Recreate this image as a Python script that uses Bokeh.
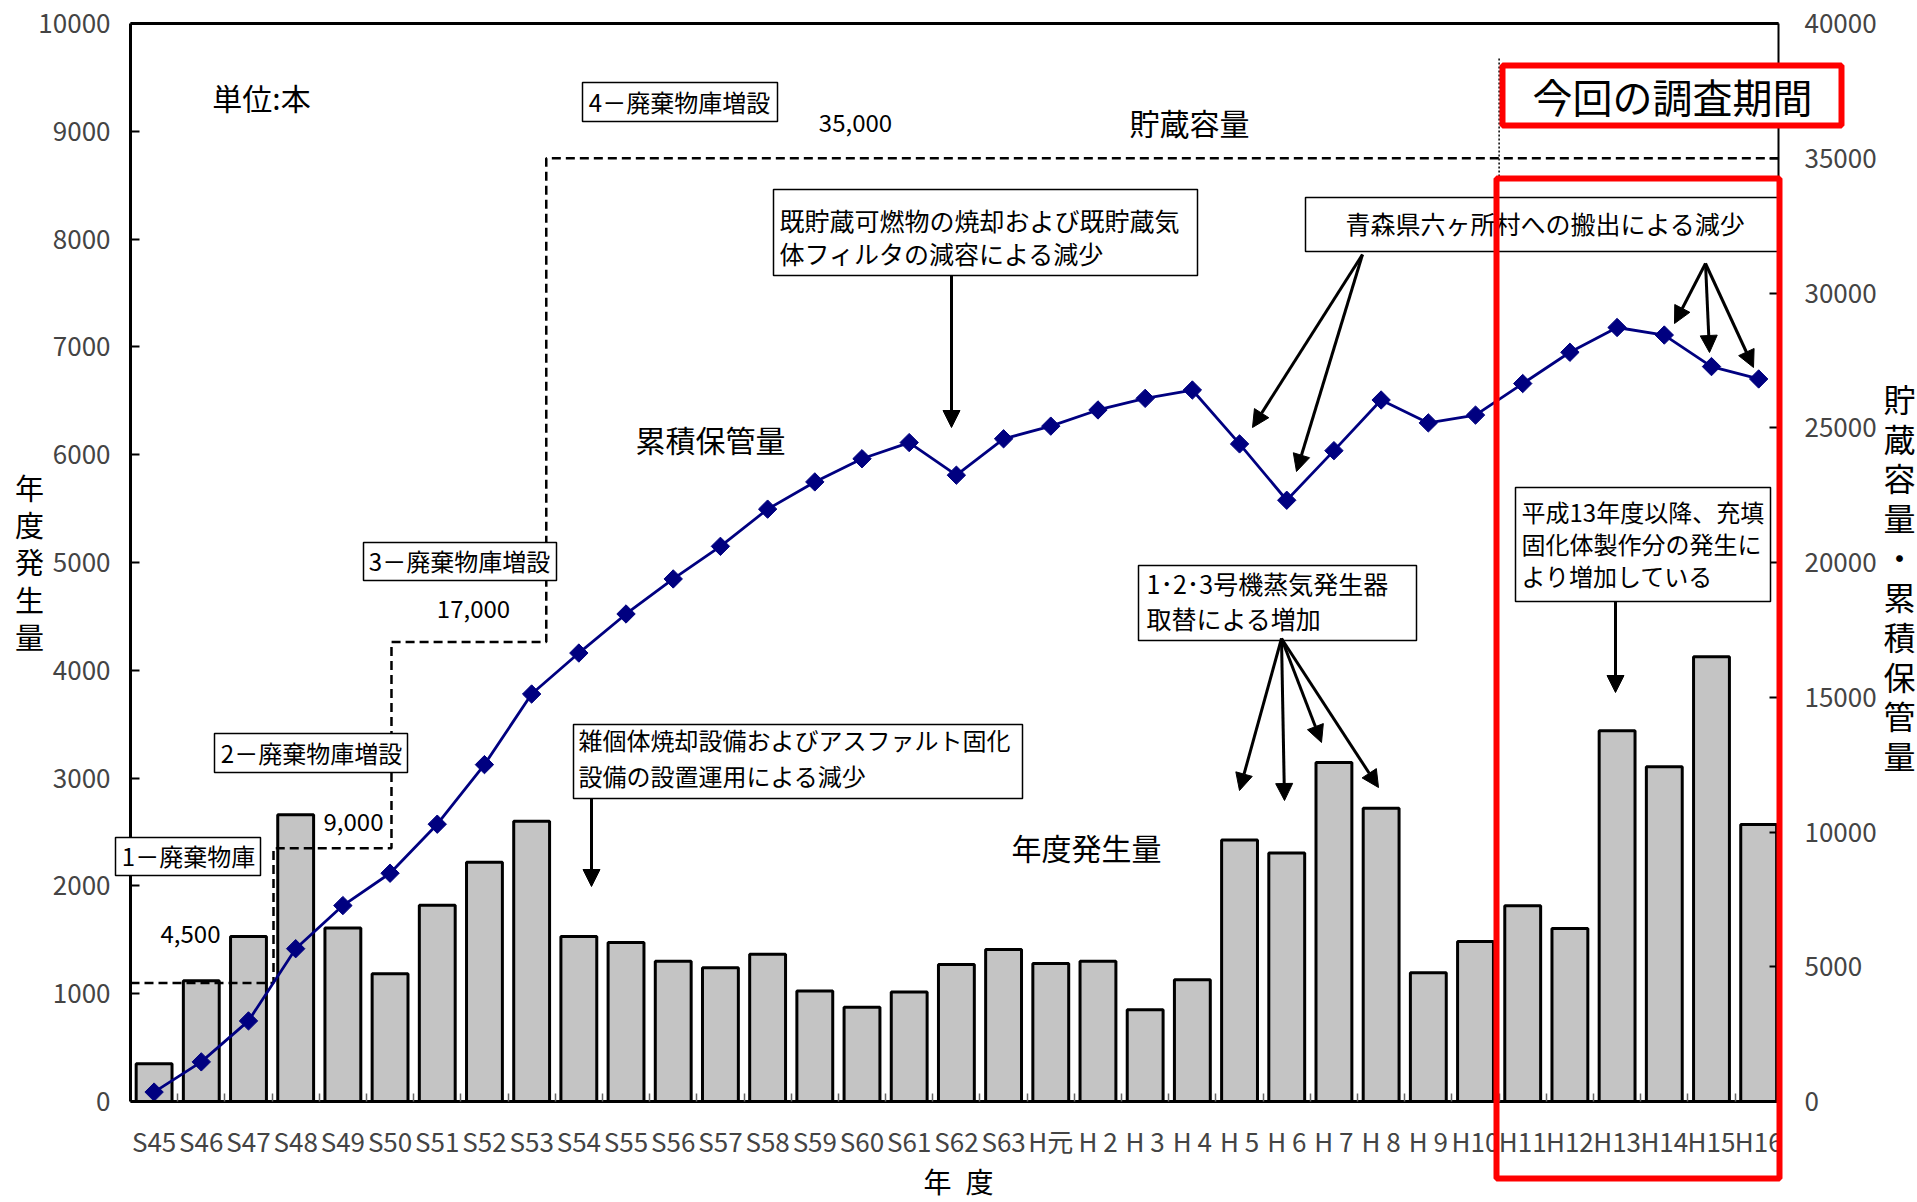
from bokeh.plotting import figure
from bokeh.models import Range1d, LinearAxis, FixedTicker, Label, BoxAnnotation, Arrow, NormalHead
from bokeh.embed import file_html
from bokeh.resources import INLINE

# ---------------- data ----------------
categories = ["S45", "S46", "S47", "S48", "S49", "S50", "S51", "S52", "S53", "S54",
              "S55", "S56", "S57", "S58", "S59", "S60", "S61", "S62", "S63", "H元",
              "H 2", "H 3", "H 4", "H 5", "H 6", "H 7", "H 8", "H 9", "H10", "H11",
              "H12", "H13", "H14", "H15", "H16"]
annual = [350, 1120, 1530, 2660, 1610, 1185, 1820, 2220, 2600, 1530,
          1475, 1300, 1240, 1365, 1025, 875, 1015, 1270, 1410, 1280,
          1300, 850, 1130, 2425, 2305, 3145, 2720, 1195, 1485, 1815,
          1605, 3440, 3105, 4125, 2570]
cumulative = [350, 1470, 2990, 5670, 7270, 8470, 10290, 12500, 15120, 16640,
              18090, 19390, 20600, 21980, 22990, 23850, 24450, 23240, 24590, 25060,
              25660, 26090, 26400, 24400, 22310, 24150, 26030, 25180, 25470, 26640,
              27800, 28720, 28440, 27270, 26810]
capacity_drawn = [4400, 9400, 17050, 35000]
capacity_text = ["4,500", "9,000", "17,000", "35,000"]
capacity_from = [-0.5, 2.53, 5.03, 8.31]
left_ticks = [0, 1000, 2000, 3000, 4000, 5000, 6000, 7000, 8000, 9000, 10000]
right_ticks = [0, 5000, 10000, 15000, 20000, 25000, 30000, 35000, 40000]
survey_start = 28.5

# ---------------- layout ----------------
W, H = 1917, 1202
PL, PR, PT, PB = 130, 1778, 23, 1101      # pixel box of the chart's axes
XMIN, XMAX = -0.5, 34.42
YMAX, RMAX = 10000, 40000
FONT = "Noto Sans CJK JP"
EM = 1.448  # Noto Sans CJK line box in em

ux = (XMAX - XMIN) / (PR - PL)
uy = YMAX / (PB - PT)
XLO, XHI = XMIN - PL * ux, XMAX + (W - PR) * ux
YLO, YHI = -(H - PB) * uy, YMAX + PT * uy


def X(px):
    return XLO + px * ux


def Y(py):
    return YHI - py * uy


p = figure(width=W, height=H, x_range=Range1d(XLO, XHI), y_range=Range1d(YLO, YHI),
           output_backend="svg", toolbar_location=None, x_axis_location=None,
           y_axis_location=None, min_border=0)
p.extra_y_ranges = {"right": Range1d(YLO * RMAX / YMAX, YHI * RMAX / YMAX)}
p.xgrid.visible = False
p.ygrid.visible = False
p.background_fill_color = "white"
p.border_fill_color = "white"
p.outline_line_color = None

# axes (drawn at fixed positions inside the canvas)
xa = LinearAxis(fixed_location=0, bounds=(XMIN, XMAX),
                ticker=FixedTicker(ticks=list(range(len(categories))),
                                   minor_ticks=[i + 0.5 for i in range(len(categories) - 1)]))
xa.major_label_overrides = {i: c for i, c in enumerate(categories)}
xa.major_tick_in = 0
xa.major_tick_out = 0
xa.minor_tick_in = 8
xa.minor_tick_out = 0
xa.minor_tick_line_color = "#666666"
xa.minor_tick_line_width = 1.5
xa.axis_line_width = 3
xa.major_label_text_font = FONT
xa.major_label_text_font_size = "26px"
xa.major_label_standoff = 20
p.add_layout(xa, "below")

ya = LinearAxis(fixed_location=XMIN, bounds=(0, YMAX), ticker=FixedTicker(ticks=left_ticks))
ya.major_tick_in = 9
ya.major_tick_out = 0
ya.major_tick_line_width = 2
ya.minor_tick_line_color = None
ya.axis_line_width = 3
ya.major_label_text_font = FONT
ya.major_label_text_font_size = "26px"
ya.major_label_standoff = 20
p.add_layout(ya, "left")

ra = LinearAxis(fixed_location=XMAX, y_range_name="right", bounds=(0, RMAX),
                ticker=FixedTicker(ticks=right_ticks))
ra.major_tick_in = 9
ra.major_tick_out = 0
ra.major_tick_line_width = 2
ra.minor_tick_line_color = None
ra.axis_line_width = 2
ra.major_label_text_font = FONT
ra.major_label_text_font_size = "26px"
ra.major_label_standoff = 26
p.add_layout(ra, "right")

# top border of the chart area
p.line([XMIN, XMAX], [YMAX, YMAX], line_color="black", line_width=3)

# ---------------- marks ----------------
idx = list(range(len(categories)))
p.vbar(x=idx, top=annual, bottom=0, width=0.76, fill_color="#c4c4c4",
       line_color="black", line_width=3)

sx, sy = [], []
for i, lvl in enumerate(capacity_drawn):
    x0 = capacity_from[i]
    x1 = capacity_from[i + 1] if i + 1 < len(capacity_from) else XMAX
    sx += [x0, x1]
    sy += [lvl, lvl]
p.line(sx, sy, y_range_name="right", line_color="black", line_width=2.5, line_dash="9 5")

p.line(idx, cumulative, y_range_name="right", line_color="#000080", line_width=2.8)
p.scatter(idx, cumulative, y_range_name="right", marker="square", size=13, angle=0.785398,
          fill_color="#000080", line_color="#000080")

# dotted separator for survey period
p.segment(x0=[survey_start], y0=[Y(58)], x1=[survey_start], y1=[Y(178)],
          line_color="black", line_width=1.5, line_dash="2 2")


# ---------------- annotations ----------------
def box(l, t, r, b, color="black", width=1.5, fill=True):
    p.add_layout(BoxAnnotation(left=X(l), right=X(r), top=Y(t), bottom=Y(b),
                               fill_color="white", fill_alpha=1.0 if fill else 0.0,
                               line_color=color, line_width=width, line_alpha=1.0))


def lab(text, px, py, size, align="center", spacing=None):
    lh = 1.2 if spacing is None else spacing / (EM * size)
    p.add_layout(Label(x=X(px), y=Y(py), text=text, text_font=FONT,
                       text_font_size=f"{size}px", text_align=align,
                       text_baseline="middle", text_color="black", text_line_height=lh))


def arrow(x0, y0, x1, y1):
    p.add_layout(Arrow(end=NormalHead(size=17, fill_color="black", line_color="black"),
                       x_start=X(x0), y_start=Y(y0), x_end=X(x1), y_end=Y(y1),
                       line_color="black", line_width=3))


# free texts
lab("単位:本", 261, 96, 30)
lab("貯蔵容量", 1189, 121, 30)
lab("累積保管量", 710, 438, 30)
lab("年度発生量", 1086, 846, 30)
lab(capacity_text[0], 190, 933, 24)
lab(capacity_text[1], 353, 821, 24)
lab(capacity_text[2], 473, 608, 24)
lab(capacity_text[3], 855, 122, 24)

# boxed notes
box(582, 82, 777, 121)
lab("4－廃棄物庫増設", 679, 101, 24)
box(363, 542, 556, 580)
lab("3－廃棄物庫増設", 459, 560, 24)
box(214, 733, 407, 772)
lab("2－廃棄物庫増設", 311, 752, 24)
box(115, 837, 260, 875)
lab("1－廃棄物庫", 188, 855, 24)

box(773, 189, 1197, 275)
lab("既貯蔵可燃物の焼却および既貯蔵気\n体フィルタの減容による減少", 779, 236, 25, "left", 34)
arrow(951, 275, 951, 427)

box(573, 724, 1022, 798)
lab("雑個体焼却設備およびアスファルト固化\n設備の設置運用による減少", 578, 757, 24, "left", 35)
arrow(591, 798, 591, 886)

box(1138, 565, 1416, 640)
lab("1･2･3号機蒸気発生器\n取替による増加", 1146, 600, 25, "left", 35)
for tx, ty in [(1239, 790), (1284, 800), (1321, 742), (1378, 787)]:
    arrow(1281, 638, tx, ty)

box(1515, 487, 1770, 601)
lab("平成13年度以降、充填\n固化体製作分の発生に\nより増加している", 1521, 543, 24, "left", 32)
arrow(1615, 601, 1615, 692)

box(1305, 197, 1778, 251)
lab("青森県六ヶ所村への搬出による減少", 1545, 222, 25)
for tx, ty in [(1252, 427), (1296, 471)]:
    arrow(1362, 254, tx, ty)
for tx, ty in [(1674, 323), (1709, 352), (1753, 367)]:
    arrow(1705, 263, tx, ty)

# red survey-period boxes
box(1496, 178, 1779, 1178, color="#ff0000", width=6, fill=False)
box(1502, 65, 1841, 125, color="#ff0000", width=6, fill=True)
lab("今回の調査期間", 1672, 95, 40)

# axis titles
lab("年\n度\n発\n生\n量", 29, 561, 29, "center", 37)
lab("貯\n蔵\n容\n量\n・\n累\n積\n保\n管\n量", 1899, 576, 32, "center", 40)
lab("年\u2002度", 958, 1180, 28)

open("out.html", "w").write(file_html(p, INLINE))
